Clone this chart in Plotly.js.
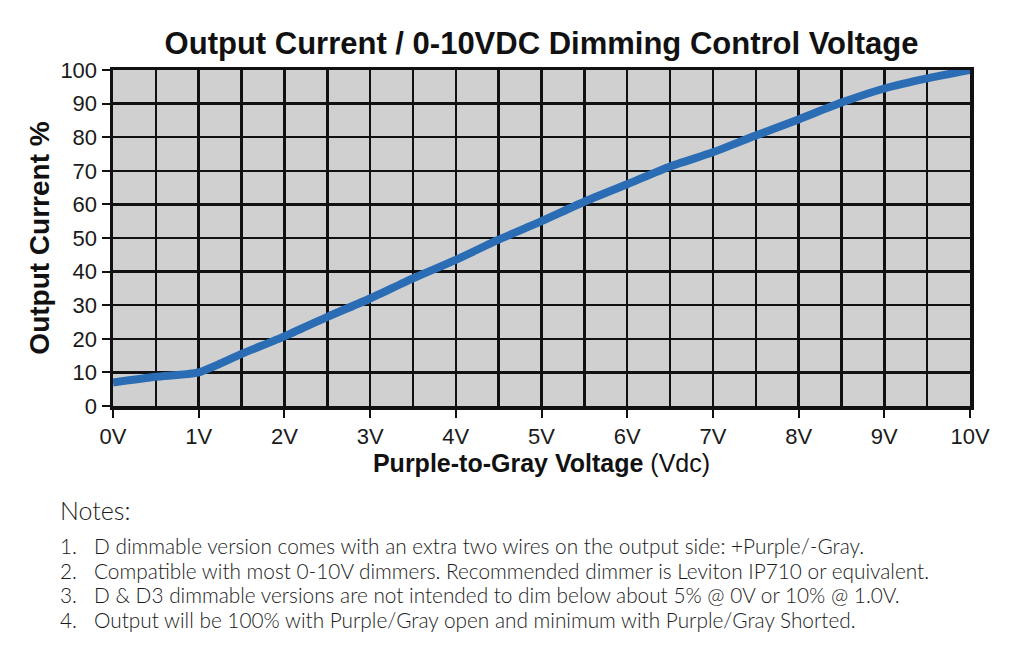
<!DOCTYPE html>
<html>
<head>
<meta charset="utf-8">
<script src="https://cdn.plot.ly/plotly-3.0.1.min.js"></script>
<style>html,body{margin:0;padding:0;background:#fff;}#chart{width:1024px;height:656px;}</style>
</head>
<body>
<div id="chart"></div>
<script>
const voltage = [0,0.5,1,1.5,2,2.5,3,3.5,4,4.5,5,5.5,6,6.5,7,7.5,8,8.5,9,9.5,10];
const outputPct = [7,8.7,10,15.5,20.7,26.5,32,38,43.5,49.5,55,60.8,66,71.3,75.5,80.5,85.3,90.3,94.5,97.5,100];
const xTickVals = [0,1,2,3,4,5,6,7,8,9,10];
const xTickText = ["0V","1V","2V","3V","4V","5V","6V","7V","8V","9V","10V"];
const yTickVals = [0,10,20,30,40,50,60,70,80,90,100];
const noteNums = ["1.","2.","3.","4."];
const noteTexts = [
  "D dimmable version comes with an extra two wires on the output side: +Purple/-Gray.",
  "Compatible with most 0-10V dimmers. Recommended dimmer is Leviton IP710 or equivalent.",
  "D & D3 dimmable versions are not intended to dim below about 5% @ 0V or 10% @ 1.0V.",
  "Output will be 100% with Purple/Gray open and minimum with Purple/Gray Shorted."
];

const W = 1024, H = 656;
const L = 113, R = 970, T = 70, B = 406;
const px = x => (x - L) / (R - L);
const py = y => (B - y) / (B - T);
const SANS = 'Liberation Sans, Arial, sans-serif';
const NOTEF = 'Lato, sans-serif';

const annotations = [];
annotations.push({xref:'paper', yref:'paper', x:px(58), y:py(510), xanchor:'left', yanchor:'middle',
  text:'Notes:', showarrow:false, font:{family:NOTEF, size:25, weight:300, color:'#1a1a1a'}});
const rowY = [545,570,594,619];
noteNums.forEach((n,i) => {
  annotations.push({xref:'paper', yref:'paper', x:px(58), y:py(rowY[i]), xanchor:'left', yanchor:'middle',
    text:n, showarrow:false, font:{family:NOTEF, size:20.8, weight:300, color:'#1a1a1a'}});
  annotations.push({xref:'paper', yref:'paper', x:px(92), y:py(rowY[i]), xanchor:'left', yanchor:'middle',
    text:noteTexts[i].replace(/&/g,'&amp;'), showarrow:false, font:{family:NOTEF, size:20.8, weight:300, color:'#1a1a1a'}});
});

const data = [{
  x: voltage, y: outputPct, type:'scatter', mode:'lines',
  line:{color:'#2a6db4', width:8, shape:'spline', smoothing:0.6},
  hoverinfo:'skip'
}];

const layout = {
  width: W, height: H,
  margin:{l:L, r:W-R, t:T, b:H-B},
  paper_bgcolor:'#ffffff', plot_bgcolor:'#d0d0d0',
  showlegend:false,
  font:{family:SANS, color:'#1a1a1a'},
  title:{text:'<b>Output Current / 0-10VDC Dimming Control Voltage</b>', x:0.5, xref:'paper',
    y:1-43/H, yref:'container', yanchor:'middle', xanchor:'center',
    font:{family:SANS, size:31, color:'#111'}},
  xaxis:{range:[0,10], tickvals:xTickVals, ticktext:xTickText, ticks:'outside', ticklen:8, tickwidth:2, tickcolor:'#111',
    showgrid:true, gridcolor:'#111', gridwidth:2.5,
    minor:{dtick:0.5, tick0:0, showgrid:true, gridcolor:'#111', gridwidth:2.5, ticks:''},
    showline:true, linecolor:'#111', linewidth:3.5, mirror:true, zeroline:false,
    tickfont:{family:SANS, size:22, color:'#1a1a1a'},
    title:{text:'<b>Purple-to-Gray Voltage</b> (Vdc)', font:{family:SANS, size:25, color:'#111'}, standoff:4},
    fixedrange:true},
  yaxis:{range:[0,100], tickvals:yTickVals, ticks:'outside', ticklen:8, tickwidth:2, tickcolor:'#111',
    showgrid:true, gridcolor:'#111', gridwidth:2.5,
    showline:true, linecolor:'#111', linewidth:3.5, mirror:true, zeroline:false,
    tickfont:{family:SANS, size:22, color:'#1a1a1a'},
    title:{text:'<b>Output Current %</b>', font:{family:SANS, size:28, color:'#111'}, standoff:3},
    fixedrange:true},
  annotations: annotations
};

Plotly.newPlot('chart', data, layout, {displayModeBar:false, staticPlot:true});
</script>
</body>
</html>
